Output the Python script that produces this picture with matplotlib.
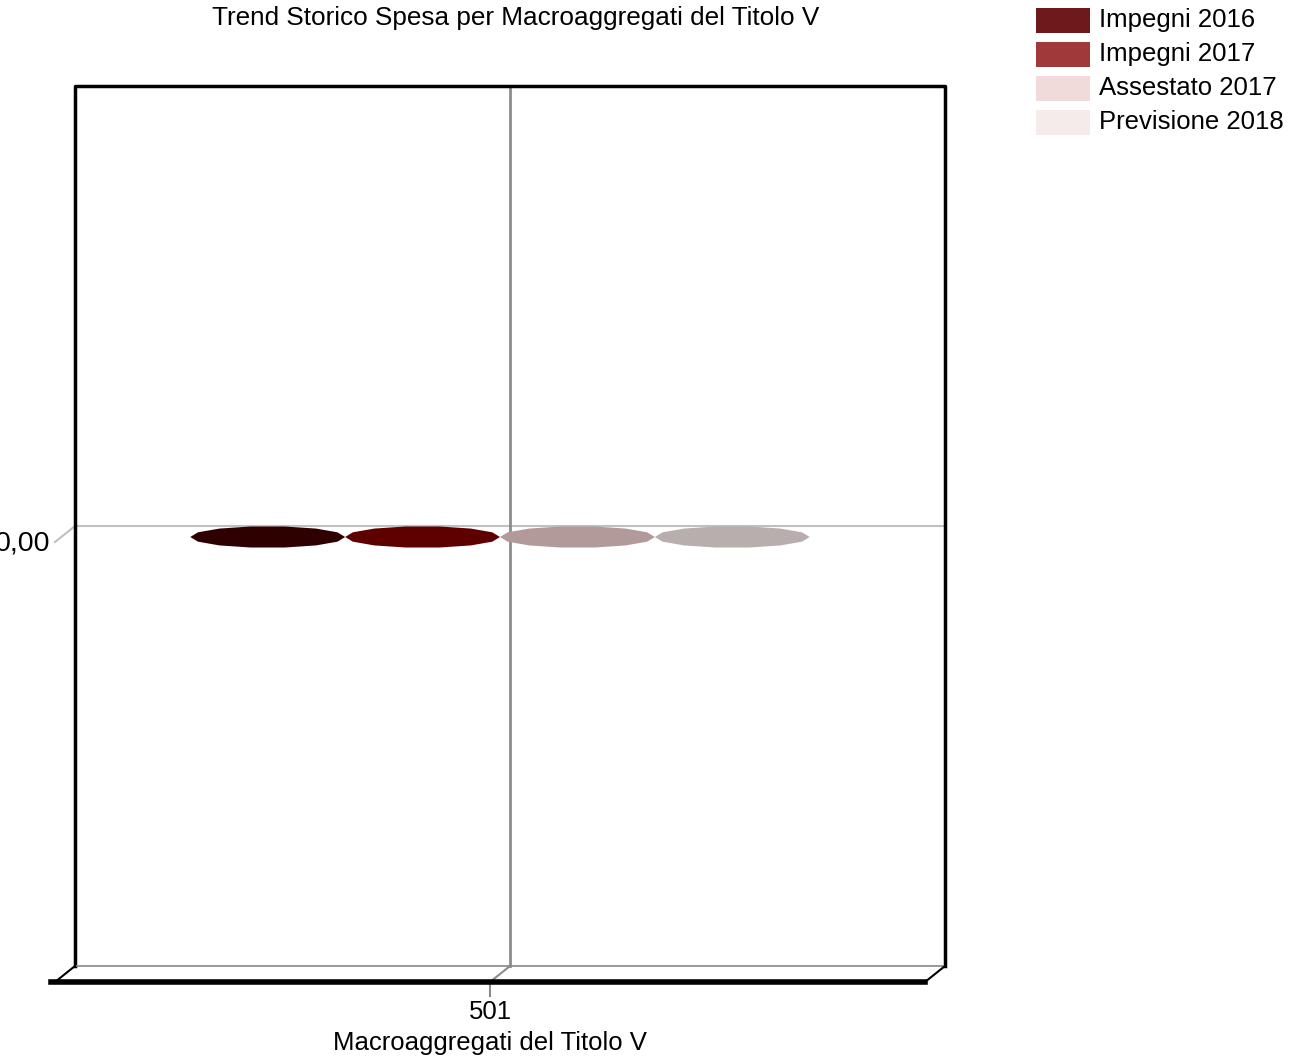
import numpy as np
import matplotlib.pyplot as plt
from matplotlib.patches import Polygon, Rectangle

plt.rcParams['font.family'] = ['Liberation Sans', 'DejaVu Sans']

# dati
categorie = ["501"]
serie = ["Impegni 2016", "Impegni 2017", "Assestato 2017", "Previsione 2018"]
valori = [0.0, 0.0, 0.0, 0.0]
colori_legenda = ["#6E1A1C", "#A03A3A", "#F0DADA", "#F6EBEB"]
colori_top = ["#2E0000", "#5E0000", "#B39A9A", "#B8AEAE"]
tick_y = ["0,00"]

W, H = 1300, 1061
fig = plt.figure(figsize=(W / 100, H / 100), dpi=100)

# asse di sfondo in pixel
bg = fig.add_axes([0, 0, 1, 1])
bg.set_xlim(0, W)
bg.set_ylim(H, 0)
bg.axis("off")

# parete di fondo e pavimento (prospettiva 3D)
bx0, bx1, by0, by1 = 75, 945, 86, 966
dx, dy = -20, 16
sh = 3  # piccolo spostamento del piano delle barre
bg.plot([bx0, bx0, bx1, bx1], [by1, by0, by0, by1], color="black", lw=2.5, zorder=2)
bg.plot([bx0, bx1], [by1, by1], color="#888888", lw=1.2, zorder=2)
bg.plot([bx0, bx0 + dx], [by1, by1 + dy], color="black", lw=1.5, zorder=2)
bg.plot([bx1, bx1 + dx], [by1, by1 + dy], color="black", lw=1.5, zorder=2)
bg.plot([bx0 + dx - 4, bx1 + dx], [by1 + dy, by1 + dy], color="black", lw=4, zorder=3)

# asse dati (piano medio)
ax = fig.add_axes([(bx0 + dx / 2) / W, 1 - (by1 + dy / 2 + sh) / H,
                   (bx1 - bx0) / W, (by1 - by0) / H])
ax.set_xlim(-0.5, len(categorie) - 0.5)
ax.set_ylim(-1, 1)
ax.axis("off")

# linee di griglia (valore 0 e categoria)
to_px = lambda x, y: bg.transData.inverted().transform(ax.transData.transform((x, y)))
for v, lab in zip([0.0], tick_y):
    _, yp = to_px(0, v)
    yb = yp - dy / 2 - sh
    bg.plot([bx0, bx1], [yb, yb], color="#C0C0C0", lw=1.5, zorder=1)
    bg.plot([bx0, bx0 + dx], [yb, yb + dy], color="#C0C0C0", lw=1.5, zorder=1)
    bg.text(bx0 + dx - 5, yb + dy + 1, lab, ha="right", va="center", fontsize=20.5)

for i, c in enumerate(categorie):
    xp, _ = to_px(i, 0)
    xb = xp - dx / 2
    bg.plot([xb, xb], [by0, by1], color="#8C8C8C", lw=2, zorder=1)
    bg.plot([xb, xb + dx], [by1, by1 + dy], color="#8C8C8C", lw=1.5, zorder=1)
    bg.plot([xb + dx, xb + dx], [by1 + dy, by1 + dy + 14], color="#8C8C8C", lw=1.5, zorder=1)
    bg.text(xb + dx, 1012, c, ha="center", va="center", fontsize=18.5)

bg.text(490, 1043, "Macroaggregati del Titolo V", ha="center", va="center", fontsize=18.5)
bg.text(516, 18, "Trend Storico Spesa per Macroaggregati del Titolo V",
        ha="center", va="center", fontsize=18.8)

# cilindri ad altezza zero: solo la faccia superiore ellittica
n = len(serie)
larg = 0.712 / n
semi_h = 0.0245
ang = np.linspace(0, 2 * np.pi, 14, endpoint=False)
for j, (s, v) in enumerate(zip(serie, valori)):
    xc = (j - (n - 1) / 2) * larg
    pts = np.column_stack([xc + larg / 2 * np.cos(ang), v + semi_h * np.sin(ang)])
    ax.add_patch(Polygon(pts, closed=True, facecolor=colori_top[j], edgecolor="none", zorder=3))

# legenda
for j, (s, c) in enumerate(zip(serie, colori_legenda)):
    yc = 20 + j * 34
    bg.add_patch(Rectangle((1036, yc - 12.5), 54, 25, facecolor=c, edgecolor="none"))
    bg.text(1099, yc, s, ha="left", va="center", fontsize=18.5)

fig.savefig("out.png", dpi=100)
